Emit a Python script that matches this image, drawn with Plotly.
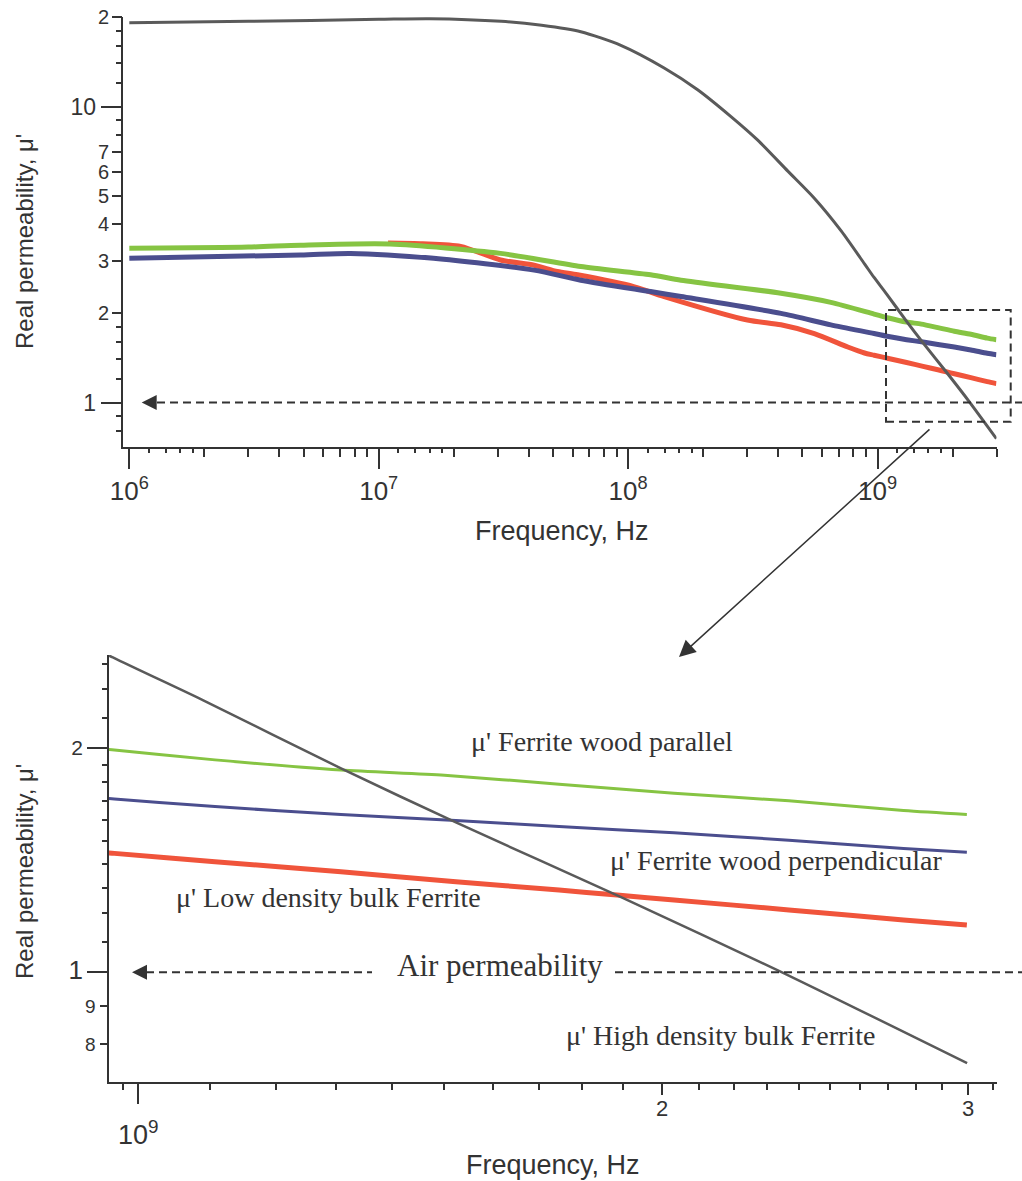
import math
import plotly.graph_objects as go

W, H = 1022, 1181

# ---------------- data ----------------
# High density bulk Ferrite (grey)
FREQ_HIGH = [1.0e6, 3.0e6, 1.0e7, 1.6e7, 3.1e7, 4.5e7, 6.46e7, 9.35e7, 1.395e8, 1.90e8,
             2.585e8, 3.31e8, 4.37e8, 5.58e8, 7.15e8, 8.87e8, 0.967e9, 1.09e9, 1.308e9,
             1.523e9, 1.898e9, 2.331e9, 2.997e9]
MU_HIGH = [19.2, 19.4, 19.7, 19.8, 19.4, 18.8, 17.9, 16.1, 13.5, 11.4,
           9.25, 7.70, 6.05, 4.90, 3.80, 2.94, 2.65, 2.32, 1.88,
           1.59, 1.26, 1.007, 0.755]

# Ferrite wood parallel (green)
FREQ_PAR = [1.0e6, 3.0e6, 4.86e6, 1.11e7, 3.08e7, 6.46e7, 1.23e8, 1.63e8, 4.1e8, 6.5e8,
            0.969e9, 1.107e9, 1.308e9, 1.50e9, 1.746e9, 2.033e9, 2.367e9, 2.755e9, 2.996e9]
MU_PAR = [3.32, 3.35, 3.40, 3.43, 3.19, 2.88, 2.70, 2.59, 2.34, 2.18,
          1.99, 1.93, 1.87, 1.84, 1.79, 1.74, 1.70, 1.65, 1.63]

# Ferrite wood perpendicular (blue)
FREQ_PERP = [1.0e6, 4.86e6, 7.7e6, 1.66e7, 4.2e7, 6.46e7, 1.23e8, 1.63e8, 4.1e8, 6.5e8,
             0.969e9, 1.107e9, 1.308e9, 1.523e9, 1.746e9, 2.033e9, 2.367e9, 2.755e9, 2.996e9]
MU_PERP = [3.07, 3.15, 3.19, 3.07, 2.80, 2.59, 2.37, 2.28, 2.00, 1.83,
           1.71, 1.67, 1.63, 1.60, 1.57, 1.54, 1.505, 1.467, 1.45]

# Low density bulk Ferrite (red)
FREQ_LOW = [1.09e7, 1.5e7, 2.13e7, 3.08e7, 4.2e7, 5.2e7, 6.27e7, 1.06e8, 1.395e8, 3.01e8,
            4.1e8, 5.58e8, 7.6e8, 8.87e8, 0.969e9, 1.107e9, 1.308e9, 1.523e9, 1.746e9,
            1.885e9, 2.033e9, 2.367e9, 2.755e9, 2.996e9]
MU_LOW = [3.46, 3.44, 3.37, 3.03, 2.91, 2.77, 2.70, 2.46, 2.28, 1.90,
          1.83, 1.71, 1.54, 1.47, 1.445, 1.408, 1.365, 1.324, 1.290,
          1.270, 1.251, 1.213, 1.176, 1.158]

AIR_MU = 1.0

# tick values / labels
TOP_X_MAJOR = [1e6, 1e7, 1e8, 1e9]
TOP_X_MAJOR_TEXT = ["10<sup>6</sup>", "10<sup>7</sup>", "10<sup>8</sup>", "10<sup>9</sup>"]
TOP_X_MINOR = [k * 10 ** n for n in (6, 7, 8) for k in range(2, 10)] + [2e9, 3e9]
TOP_X_SMALL = [k * 10 ** n for n in (6, 7, 8, 9) for k in (1.2, 1.4, 1.6, 1.8)]

TOP_Y_MAJOR = [1, 10]
TOP_Y_MAJOR_TEXT = ["1", "10"]
TOP_Y_MID = [2, 3, 4, 5, 6, 7, 20]
TOP_Y_MID_TEXT = ["2", "3", "4", "5", "6", "7", "2"]
TOP_Y_MINOR = [0.8, 0.9, 1.2, 1.4, 1.6, 1.8, 8, 9, 12, 14, 16, 18]

BOT_X_MAJOR = [1e9]
BOT_X_MAJOR_TEXT = ["10<sup>9</sup>"]
BOT_X_MID = [2e9, 3e9]
BOT_X_MID_TEXT = ["2", "3"]
BOT_X_MINOR = [0.98e9] + [k * 1e8 for k in range(11, 20)] + [k * 1e8 for k in range(21, 30)] + [3.1e9]

BOT_Y_MAJOR = [1, 2]
BOT_Y_MAJOR_TEXT = ["<span style='font-size:26px'>1</span>", "<span style='font-size:21px'>2</span>"]
BOT_Y_MID = [0.8, 0.9]
BOT_Y_MID_TEXT = ["8", "9"]
BOT_Y_MINOR = [1.1, 1.2, 1.3, 1.4, 1.5, 1.6, 1.7, 1.8, 1.9, 2.2, 2.4, 2.6]

# ---------------- styling ----------------
GREEN = "#86c443"
BLUE = "#4b4e8e"
RED = "#f0543b"
GRAY = "#5a5a5a"
INK = "#333333"
SANS = "Liberation Sans, Arial, sans-serif"
SERIF = "Liberation Serif, Times New Roman, serif"

TOP_XD = [122.7 / W, 996.5 / W]
TOP_YD = [1 - 446.7 / H, 1 - 17.0 / H]
TOP_XR = [5.9735, math.log10(3e9)]
TOP_YR = [-0.1493, 1.3024]

BOT_XD = [109.0 / W, 996.7 / W]
BOT_YD = [1 - 1081.7 / H, 1 - 655.0 / H]
BOT_XR = [8.9832, 9.4937]
BOT_YR = [-0.147, 0.4265]


def to_paper(v, dom, rng):
    """position of a value on a log axis, as a paper fraction"""
    return dom[0] + (math.log10(v) - rng[0]) / (rng[1] - rng[0]) * (dom[1] - dom[0])


fig = go.Figure()

series = [
    (FREQ_LOW, MU_LOW, RED, 5, 5),
    (FREQ_PERP, MU_PERP, BLUE, 5, 3),
    (FREQ_PAR, MU_PAR, GREEN, 5, 3),
    (FREQ_HIGH, MU_HIGH, GRAY, 3, 2.5),
]
for f, m, c, wt, wb in series:
    fig.add_trace(go.Scatter(x=f, y=m, mode="lines",
                             line=dict(color=c, width=wt, shape="spline", smoothing=0.7),
                             xaxis="x", yaxis="y", showlegend=False, hoverinfo="skip"))
    fig.add_trace(go.Scatter(x=f, y=m, mode="lines",
                             line=dict(color=c, width=wb, shape="spline", smoothing=0.7),
                             xaxis="x2", yaxis="y2", showlegend=False, hoverinfo="skip"))

# empty traces so that the overlay tick axes are drawn
for xa, ya in (("x3", "y"), ("x", "y3"), ("x4", "y2"), ("x2", "y4")):
    fig.add_trace(go.Scatter(x=[], y=[], xaxis=xa, yaxis=ya, showlegend=False, hoverinfo="skip"))


def axis(dom, rng, anchor, tickvals, ticktext, ticklen, fsize, minor_vals=None, minor_len=5,
         showline=True, overlaying=None, side=None, standoff=None):
    d = dict(type="log", domain=dom, range=rng, anchor=anchor, showgrid=False, zeroline=False,
             automargin=False,
             showline=showline, linecolor=INK, linewidth=2, ticks="outside", ticklen=ticklen,
             tickwidth=2, tickcolor=INK, tickmode="array", tickvals=tickvals,
             ticktext=ticktext if ticktext is not None else [""] * len(tickvals),
             showticklabels=ticktext is not None,
             tickfont=dict(family=SANS, size=fsize, color=INK), fixedrange=True)
    if minor_vals is not None:
        d["minor"] = dict(tickmode="array", tickvals=minor_vals, ticks="outside", ticklen=minor_len,
                          tickwidth=1.6, tickcolor=INK, showgrid=False)
    if overlaying:
        d["overlaying"] = overlaying
    if side:
        d["side"] = side
    if standoff is not None:
        d["ticklabelstandoff"] = standoff
    return d


fig.update_layout(
    template="none",
    width=W, height=H, margin=dict(l=0, r=0, t=0, b=0, pad=0, autoexpand=False),
    paper_bgcolor="white", plot_bgcolor="white",
    xaxis=axis(TOP_XD, TOP_XR, "y", TOP_X_MAJOR, TOP_X_MAJOR_TEXT, 20, 26, TOP_X_MINOR, 8),
    xaxis3=axis(TOP_XD, TOP_XR, "y", TOP_X_SMALL, None, 5, 10, showline=False, overlaying="x"),
    yaxis=axis(TOP_YD, TOP_YR, "x", TOP_Y_MAJOR, TOP_Y_MAJOR_TEXT, 20, 23, TOP_Y_MINOR, 5),
    yaxis3=axis(TOP_YD, TOP_YR, "x", TOP_Y_MID, None, 10, 18, showline=False,
                overlaying="y", side="left"),
    xaxis2=axis(BOT_XD, BOT_XR, "y2", BOT_X_MAJOR, BOT_X_MAJOR_TEXT, 20, 27, BOT_X_MINOR, 6,
                standoff=8),
    xaxis4=axis(BOT_XD, BOT_XR, "y2", BOT_X_MID, None, 12, 20, showline=False,
                overlaying="x2"),
    yaxis2=axis(BOT_YD, BOT_YR, "x2", BOT_Y_MAJOR, BOT_Y_MAJOR_TEXT, 20, 20, BOT_Y_MINOR, 5),
    yaxis4=axis(BOT_YD, BOT_YR, "x2", BOT_Y_MID, None, 8, 17, showline=False,
                overlaying="y2", side="left"),
)

# ---- air permeability dashed lines, zoom box ----
y_air_top = to_paper(AIR_MU, TOP_YD, TOP_YR)
y_air_bot = to_paper(AIR_MU, BOT_YD, BOT_YR)
dash = "8px,5px"
shapes = [
    dict(type="line", xref="paper", yref="paper", x0=157 / W, x1=1.0, y0=y_air_top, y1=y_air_top,
         line=dict(color=INK, width=2, dash=dash)),
    dict(type="line", xref="paper", yref="paper", x0=146 / W, x1=372 / W, y0=y_air_bot, y1=y_air_bot,
         line=dict(color=INK, width=2, dash=dash)),
    dict(type="line", xref="paper", yref="paper", x0=615 / W, x1=1.0, y0=y_air_bot, y1=y_air_bot,
         line=dict(color=INK, width=2, dash=dash)),
    dict(type="rect", xref="paper", yref="paper", x0=886 / W, x1=1010.7 / W,
         y0=1 - 421.7 / H, y1=1 - 310 / H, line=dict(color=INK, width=2, dash=dash)),
]
fig.update_layout(shapes=shapes)

ann = []
# secondary tick labels (written next to the medium-length ticks)
for v, t in zip(TOP_Y_MID, TOP_Y_MID_TEXT):
    ann.append(dict(xref="paper", yref="paper", x=111 / W, y=to_paper(v, TOP_YD, TOP_YR), text=t,
                    xanchor="right", yanchor="middle", showarrow=False,
                    font=dict(family=SANS, size=20, color=INK)))
for v, t in zip(BOT_Y_MID, BOT_Y_MID_TEXT):
    ann.append(dict(xref="paper", yref="paper", x=98 / W, y=to_paper(v, BOT_YD, BOT_YR), text=t,
                    xanchor="right", yanchor="middle", showarrow=False,
                    font=dict(family=SANS, size=19, color=INK)))
for v, t in zip(BOT_X_MID, BOT_X_MID_TEXT):
    ann.append(dict(xref="paper", yref="paper", x=to_paper(v, BOT_XD, BOT_XR), y=1 - 1108 / H, text=t,
                    xanchor="center", yanchor="middle", showarrow=False,
                    font=dict(family=SANS, size=22, color=INK)))
# arrowheads on the air lines
for xp, yp in ((141.7 / W, y_air_top), (132 / W, y_air_bot)):
    ann.append(dict(xref="paper", yref="paper", x=xp, y=yp, text="", showarrow=True,
                    arrowhead=2, arrowsize=3, arrowwidth=1, arrowcolor=INK, ax=14, ay=0))
# zoom arrow
ann.append(dict(xref="paper", yref="paper", x=679 / W, y=1 - 657 / H, text="", showarrow=True,
                arrowhead=2, arrowsize=2.2, arrowwidth=1.5, arrowcolor=INK, ax=252, ay=-229))
# axis titles
for xc, yc in ((562, 531), (553, 1165)):
    ann.append(dict(xref="paper", yref="paper", x=xc / W, y=1 - yc / H, text="Frequency, Hz",
                    xanchor="center", yanchor="middle",
                    showarrow=False, font=dict(family=SANS, size=27, color=INK)))
for yc in (242, 872):
    ann.append(dict(xref="paper", yref="paper", x=24 / W, y=1 - yc / H, text="Real permeability, μ'",
                    xanchor="center", yanchor="middle",
                    textangle=-90, showarrow=False, font=dict(family=SANS, size=24, color=INK)))
# series labels in the zoom panel
labels = [
    ("μ' Ferrite wood parallel", 602, 742, 28),
    ("μ' Ferrite wood perpendicular", 776, 860, 28),
    ("μ' Low density bulk Ferrite", 328, 897, 28),
    ("Air permeability", 500, 965, 31),
    ("μ' High density bulk Ferrite", 720, 1035, 28),
]
for t, xc, yc, fs in labels:
    ann.append(dict(xref="paper", yref="paper", x=xc / W, y=1 - yc / H, text=t, showarrow=False,
                    xanchor="center", yanchor="middle",
                    font=dict(family=SERIF, size=fs, color=INK)))
fig.update_layout(annotations=ann)

fig.write_html("out.html")
